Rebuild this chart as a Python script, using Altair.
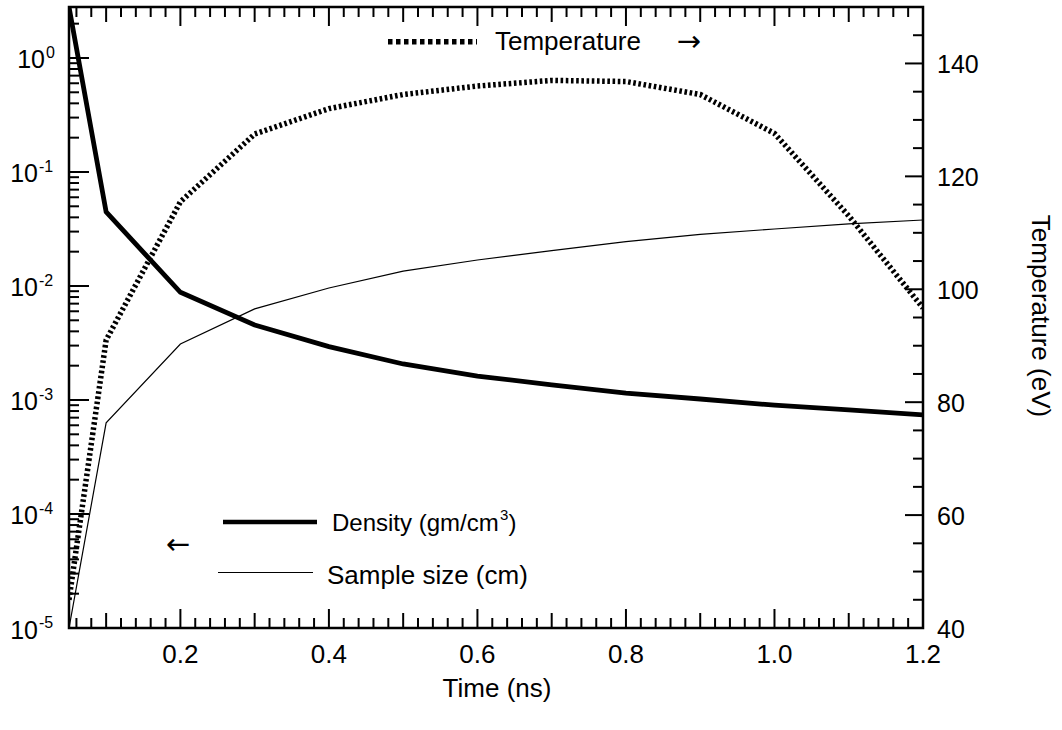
import altair as alt
import pandas as pd

# ---- data -----------------------------------------------------------------
time_ns = [0.05, 0.1, 0.2, 0.3, 0.4, 0.5, 0.6, 0.7, 0.8, 0.9, 1.0, 1.1, 1.2]
density = [2.8, 0.0446, 0.0088, 0.00455, 0.00294, 0.00207, 0.00162,
           0.00136, 0.00115, 0.00102, 0.00090, 0.00082, 0.00074]
sample_size = [1.0e-5, 6.3e-4, 3.1e-3, 6.3e-3, 9.6e-3, 1.35e-2, 1.69e-2,
               2.04e-2, 2.45e-2, 2.84e-2, 3.16e-2, 3.5e-2, 3.79e-2]
temperature = [45.0, 91.0, 115.5, 127.5, 132.0, 134.5, 136.0,
               137.0, 136.8, 134.5, 127.6, 113.0, 96.7]

x_tick_labels = [0.2, 0.4, 0.6, 0.8, 1.0, 1.2]
left_exponents = [0, -1, -2, -3, -4, -5]
right_tick_labels = [40, 60, 80, 100, 120, 140]

# ---- layout ---------------------------------------------------------------
W, H = 854, 621
PAD = {"left": 69, "top": 7, "right": 139, "bottom": 102}
FONT = "Liberation Sans"
ARROW_FONT = "DejaVu Sans"
FS = 26
TICK_FS = 25

x_scale = alt.Scale(domain=[0.05, 1.2], nice=False, zero=False)
y_left = alt.Scale(type="log", domain=[1e-5, 2.8], nice=False)
y_right = alt.Scale(domain=[40, 150], nice=False, zero=False)

df = pd.DataFrame({"time": time_ns, "density": density,
                   "sample": sample_size, "temperature": temperature})

X = alt.X("time:Q", scale=x_scale, axis=None)

density_line = alt.Chart(df).mark_line(color="black", strokeWidth=4.8, clip=True).encode(
    x=X, y=alt.Y("density:Q", scale=y_left, axis=None))
sample_line = alt.Chart(df).mark_line(color="black", strokeWidth=1.2, clip=True).encode(
    x=X, y=alt.Y("sample:Q", scale=y_left, axis=None))
temp_line = alt.Chart(df).mark_line(color="black", strokeWidth=5.5,
                                    strokeDash=[2.6, 2.6], clip=True).encode(
    x=X, y=alt.Y("temperature:Q", scale=y_right, axis=None))

# ---- inward tick marks ----------------------------------------------------
xt = []
for k in range(3, 60):
    kind = "major" if k % 10 == 0 else ("mid" if k % 5 == 0 else "minor")
    xt.append({"v": round(k * 0.02, 4), "kind": kind})
xt = pd.DataFrame(xt)
x_len = {"major": 19, "mid": 15, "minor": 10}

x_ticks = []
for kind, ln in x_len.items():
    sub = xt[xt.kind == kind]
    enc_x = alt.X("v:Q", scale=x_scale, axis=None)
    x_ticks.append(alt.Chart(sub).mark_rule(color="black", strokeWidth=2).encode(
        x=enc_x, y=alt.value(H), y2=alt.value(H - ln)))
    x_ticks.append(alt.Chart(sub).mark_rule(color="black", strokeWidth=2).encode(
        x=enc_x, y=alt.value(0), y2=alt.value(ln)))

lt = []
for e in range(-5, 1):
    for m in range(1, 10):
        v = m * 10.0 ** e
        if v <= 2.8:
            lt.append({"v": v, "kind": "major" if m == 1 else "minor"})
lt = pd.DataFrame(lt)
left_ticks = []
for kind, ln in {"major": 20, "minor": 10}.items():
    left_ticks.append(alt.Chart(lt[lt.kind == kind]).mark_rule(color="black", strokeWidth=2).encode(
        y=alt.Y("v:Q", scale=y_left, axis=None), x=alt.value(0), x2=alt.value(ln)))

rt = pd.DataFrame({"v": list(range(40, 150, 5))})
rt["kind"] = ["major" if v % 20 == 0 else "minor" for v in rt.v]
right_ticks = []
for kind, ln in {"major": 18, "minor": 10}.items():
    right_ticks.append(alt.Chart(rt[rt.kind == kind]).mark_rule(color="black", strokeWidth=2).encode(
        y=alt.Y("v:Q", scale=y_right, axis=None), x=alt.value(W), x2=alt.value(W - ln)))

# ---- tick labels ----------------------------------------------------------
xl = pd.DataFrame({"v": x_tick_labels, "label": [f"{v:.1f}" for v in x_tick_labels]})
x_labels = alt.Chart(xl).mark_text(font=FONT, fontSize=FS, align="center",
                                   baseline="alphabetic", color="black").encode(
    x=alt.X("v:Q", scale=x_scale, axis=None), y=alt.value(H + 35), text="label:N")

ll = pd.DataFrame({"e": left_exponents})
ll["v"] = [10.0 ** e for e in ll.e]
ll["base"] = "10"
ll["exp"] = [str(e) for e in ll.e]
left_labels = []
for cond, right_edge in (("datum.e >= 0", -24), ("datum.e < 0", -31)):
    left_labels.append(alt.Chart(ll).transform_filter(cond).mark_text(
        font=FONT, fontSize=TICK_FS, align="right", baseline="alphabetic", dy=10.5, color="black").encode(
        y=alt.Y("v:Q", scale=y_left, axis=None), x=alt.value(right_edge), text="base:N"))
    left_labels.append(alt.Chart(ll).transform_filter(cond).mark_text(
        font=FONT, fontSize=16, align="left", baseline="alphabetic", dy=0, color="black").encode(
        y=alt.Y("v:Q", scale=y_left, axis=None), x=alt.value(right_edge + 1), text="exp:N"))

rl = pd.DataFrame({"v": right_tick_labels, "label": [str(v) for v in right_tick_labels]})
right_labels = alt.Chart(rl).mark_text(font=FONT, fontSize=TICK_FS, align="left",
                                       baseline="alphabetic", dy=9.5, color="black").encode(
    y=alt.Y("v:Q", scale=y_right, axis=None), x=alt.value(W + 14), text="label:N")

# ---- titles and in-plot key -----------------------------------------------
def label(text, x, y, size=FS, align="left", baseline="alphabetic", angle=0, font=FONT):
    kw = dict(font=font, fontSize=size, align=align, baseline=baseline, color="black")
    if angle:
        kw["angle"] = angle
    return alt.Chart(pd.DataFrame({"t": [text]})).mark_text(**kw).encode(
        x=alt.value(x), y=alt.value(y), text="t:N")

def key_line(x1, x2, y, width, dash=None):
    kw = dict(color="black", strokeWidth=width)
    if dash:
        kw["strokeDash"] = dash
    return alt.Chart(pd.DataFrame({"k": [0]})).mark_rule(**kw).encode(
        x=alt.value(x1), x2=alt.value(x2), y=alt.value(y))

annotations = [
    label("Time (ns)", 428, 690, align="center"),
    label("Temperature (eV)", 971, 309, align="center", baseline="middle", angle=90),
    key_line(319, 408, 34.7, 5.5, [4.5, 3.5]),
    label("Temperature", 426, 43),
    label("\u2192", 620, 35, size=29, align="center", baseline="middle", font=ARROW_FONT),
    key_line(154, 248, 515, 4.7),
    label("Density (gm/cm", 429.7, 524, size=24, align="right"),
    label("3", 431, 513, size=15),
    label(")", 439.5, 524, size=24),
    label("\u2190", 109, 538, size=29, align="center", baseline="middle", font=ARROW_FONT),
    key_line(149, 244, 565.5, 1.2),
    label("Sample size (cm)", 258, 577),
]

left_group = alt.layer(density_line, sample_line, *x_ticks, *left_ticks,
                       x_labels, *left_labels, *annotations)
right_group = alt.layer(temp_line, *right_ticks, right_labels)

chart = alt.layer(left_group, right_group).resolve_scale(y="independent").properties(
    width=W, height=H, padding=PAD, autosize=alt.AutoSizeParams(type="none"),
    background="white",
).configure_view(stroke="black", strokeWidth=2.5)

chart.save("out.html", embed_options={"renderer": "svg", "actions": False})
